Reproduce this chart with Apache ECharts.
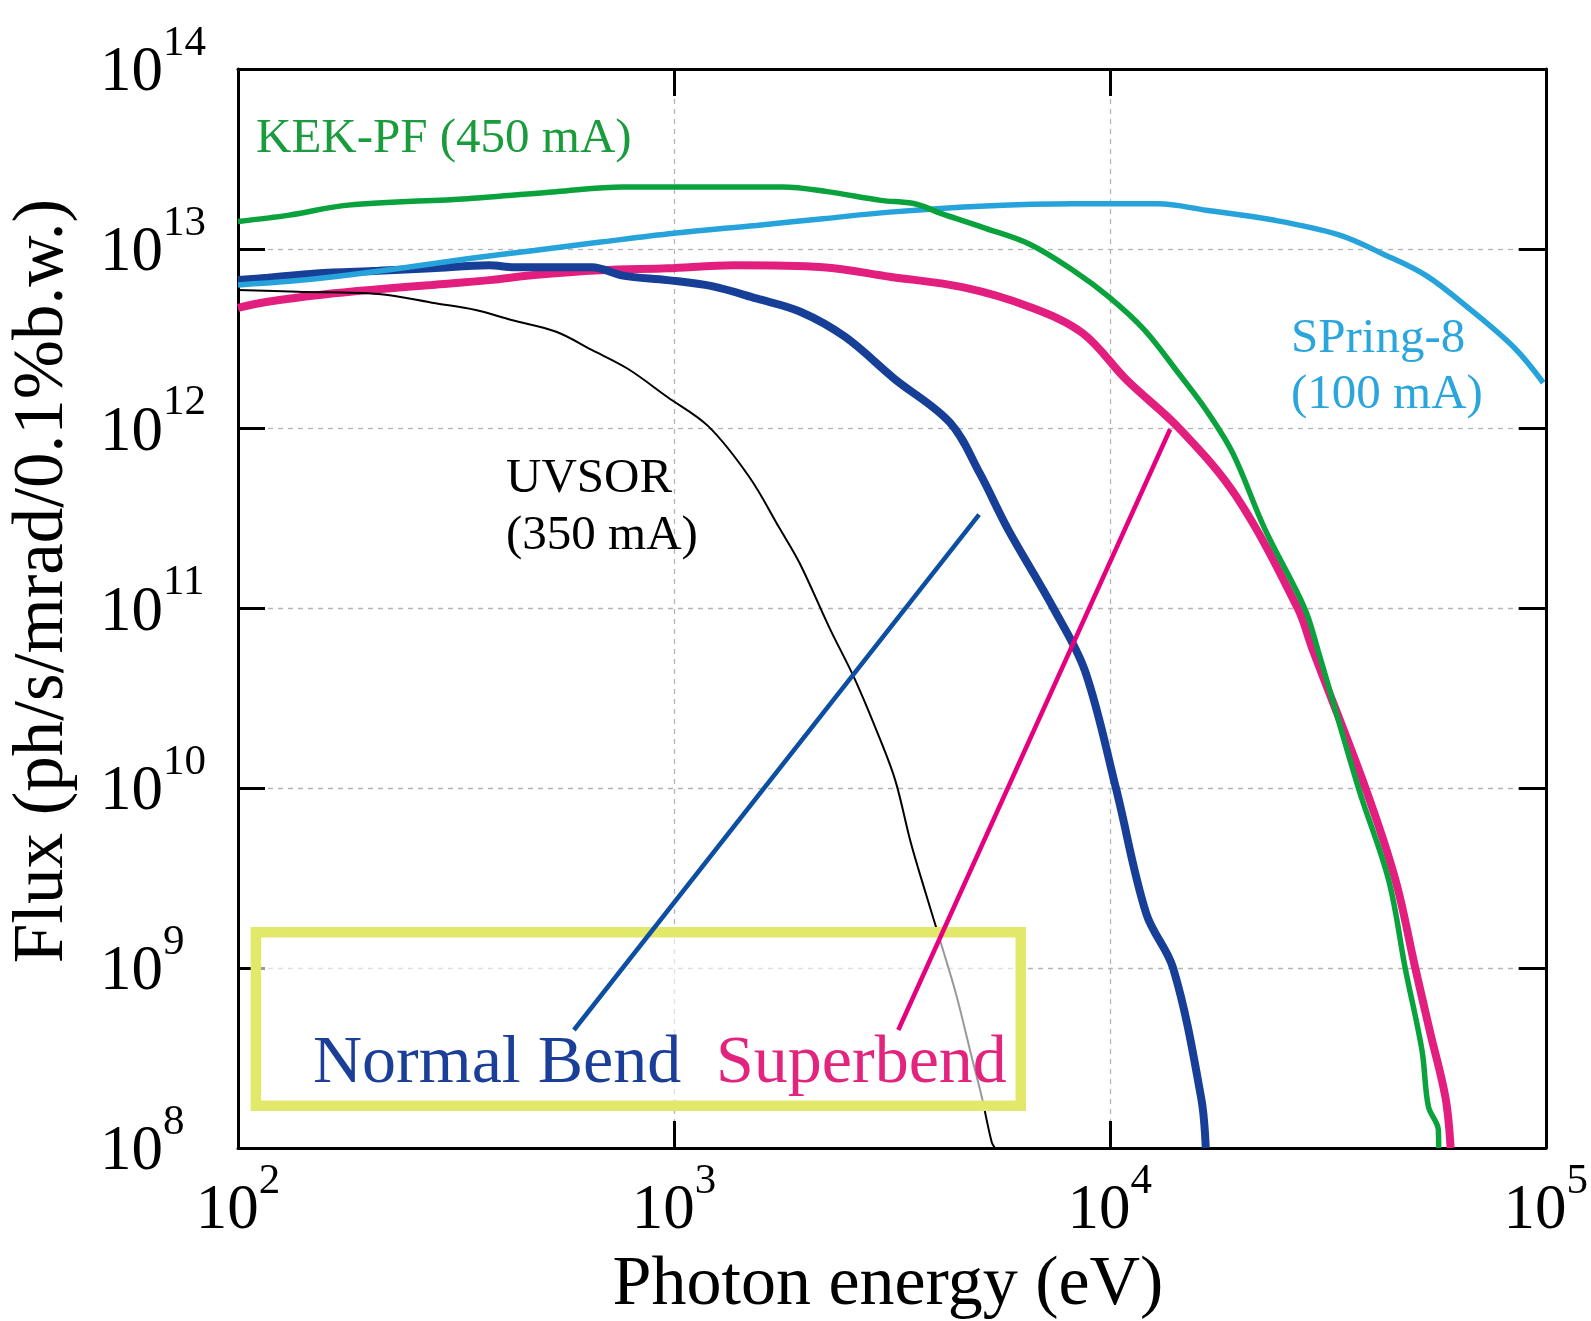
<!DOCTYPE html>
<html>
<head>
<meta charset="utf-8">
<script src="https://cdn.jsdelivr.net/npm/echarts@6/dist/echarts.min.js"></script>
<style>
html,body{margin:0;padding:0;background:#fff;}
#chart{width:1591px;height:1321px;}
</style>
</head>
<body>
<div id="chart"></div>
<script>
// ---------------- data ----------------
const xTickExponents = [2, 3, 4, 5];
const yTickExponents = [8, 9, 10, 11, 12, 13, 14];

const uvsorEnergy = [100, 137, 210, 284, 351, 424, 537, 648, 782, 966, 1200, 1488, 1746, 1942, 2280, 2606, 2980, 3226, 3494, 3783, 4100, 4444, 4810, 5077, 5357, 5450];
const uvsorFlux   = [5.9e12, 5.77e12, 5.61e12, 4.98e12, 4.57e12, 4.02e12, 3.46e12, 2.74e12, 2.16e12, 1.50e12, 1.03e12, 5.4e11, 2.8e11, 1.79e11, 7.7e10, 4.0e10, 1.84e10, 1.09e10, 5.0e9, 2.6e9, 1.37e9, 7.1e8, 3.28e8, 1.95e8, 1.08e8, 1.0e8];

const normalEnergy = [100, 117, 151, 210, 278, 377, 430, 648, 764, 966, 1222, 1545, 1950, 2470, 3200, 4300, 5040, 5820, 7430, 8770, 10330, 12130, 13970, 16200, 16600];
const normalFlux   = [6.7e12, 6.9e12, 7.3e12, 7.55e12, 7.8e12, 8.1e12, 7.9e12, 7.9e12, 7.1e12, 6.7e12, 6.2e12, 5.3e12, 4.47e12, 3.24e12, 1.9e12, 1.08e12, 5.6e11, 2.8e11, 1.0e11, 4.5e10, 1.0e10, 2.0e9, 1.0e9, 1.9e8, 1.0e8];

const superEnergy = [100, 117, 166, 210, 278, 377, 478, 679, 966, 1374, 2198, 3126, 4620, 6550, 8660, 10940, 14450, 19500, 27000, 29200, 38600, 45200, 50200, 54300, 58900, 60500];
const superFlux   = [4.7e12, 5.08e12, 5.66e12, 5.96e12, 6.3e12, 6.7e12, 7.15e12, 7.6e12, 7.8e12, 8.1e12, 7.9e12, 7.0e12, 6.1e12, 4.75e12, 3.4e12, 1.86e12, 1.0e12, 4.2e11, 1.0e11, 5.9e10, 1.0e10, 3.1e9, 1.0e9, 4.4e8, 1.9e8, 1.0e8];

const kekEnergy = [100, 131, 179, 336, 537, 764, 1778, 2249, 2980, 3570, 4110, 5190, 6550, 8260, 9950, 12000, 14450, 16630, 19150, 22630, 28000, 30000, 37200, 43600, 47600, 52000, 53800, 56700, 56800];
const kekFlux   = [1.42e13, 1.54e13, 1.75e13, 1.9e13, 2.08e13, 2.21e13, 2.21e13, 2.08e13, 1.86e13, 1.78e13, 1.57e13, 1.30e13, 1.06e13, 7.55e12, 5.4e12, 3.54e12, 2.0e12, 1.27e12, 7.3e11, 2.8e11, 1.0e11, 5.9e10, 1.0e10, 3.1e9, 1.0e9, 3.5e8, 1.7e8, 1.26e8, 1.0e8];

const spring8Energy = [100, 131, 166, 236, 336, 478, 679, 1000, 1545, 2198, 3126, 5190, 8260, 12880, 16630, 23550, 33400, 42200, 53200, 67100, 84900, 98700];
const spring8Flux   = [6.3e12, 6.6e12, 7.0e12, 7.8e12, 8.8e12, 9.8e12, 1.09e13, 1.22e13, 1.35e13, 1.47e13, 1.6e13, 1.73e13, 1.78e13, 1.78e13, 1.64e13, 1.45e13, 1.2e13, 9.4e12, 7.1e12, 4.6e12, 2.8e12, 1.8e12];

// annotation anchors in data space [energy, flux]
const normalPointer = [[589.7, 4.53e8], [5012, 3.33e11]];
const superPointer  = [[3272, 4.53e8], [13750, 9.93e11]];
const highlightBox  = [[109.9, 1.586e9], [6247, 1.72e8]];

const seriesNames = ['Superbend', 'Normal Bend', 'UVSOR (350 mA)', 'SPring-8 (100 mA)', 'KEK-PF (450 mA)'];

// ---------------- chart ----------------
const FONT = '"Liberation Serif", "Times New Roman", serif';
const zip = (a, b) => a.map((v, i) => [v, b[i]]);
const chart = echarts.init(document.getElementById('chart'), null, {renderer: 'canvas'});

function expLabel(exps) {
  return function (v) {
    const e = Math.round(Math.log10(v));
    if (exps.indexOf(e) < 0) return '';
    return '{n|10}{s|' + e + '}';
  };
}
const richExp = {
  n: {fontFamily: FONT, fontSize: 63, lineHeight: 83, verticalAlign: 'bottom', color: '#000'},
  s: {fontFamily: FONT, fontSize: 43, lineHeight: 43, verticalAlign: 'top', color: '#000'}
};
const tickStyle = {show: true, inside: true, length: 27, lineStyle: {color: '#000', width: 3}};
const lineStyleAxis = {show: true, onZero: false, lineStyle: {color: '#000', width: 3}};
const gridLine = {show: true, lineStyle: {color: '#b4b4b4', width: 1.3, type: [5, 5]}};

function curve(name, ex, fy, color, width, z) {
  return {name: name, type: 'line', data: zip(ex, fy), showSymbol: false, symbol: 'none',
          smooth: 0.35, lineStyle: {color: color, width: width}, z: z};
}

const option = {
  animation: false,
  backgroundColor: '#fff',
  grid: {left: 238, right: 40, top: 69, bottom: 173, containLabel: false},
  xAxis: [
    {type: 'log', logBase: 10, min: 100, max: 100000, splitNumber: 3, position: 'bottom',
     axisLine: lineStyleAxis, axisTick: tickStyle, minorTick: {show: false},
     splitLine: gridLine,
     axisLabel: {formatter: expLabel(xTickExponents), rich: richExp, margin: 12, showMinLabel: true, showMaxLabel: true}},
    {type: 'log', logBase: 10, min: 100, max: 100000, splitNumber: 3, position: 'top',
     axisLine: lineStyleAxis, axisTick: tickStyle, splitLine: {show: false}, axisLabel: {show: false}}
  ],
  yAxis: [
    {type: 'log', logBase: 10, min: 1e8, max: 1e14, splitNumber: 6, position: 'left',
     axisLine: lineStyleAxis, axisTick: tickStyle, splitLine: gridLine,
     axisLabel: {formatter: expLabel(yTickExponents), rich: richExp, margin: 138, align: 'left', padding: [0, 0, 11, 0],
                 showMinLabel: true, showMaxLabel: true}},
    {type: 'log', logBase: 10, min: 1e8, max: 1e14, splitNumber: 6, position: 'right',
     axisLine: lineStyleAxis, axisTick: tickStyle, splitLine: {show: false}, axisLabel: {show: false}}
  ],
  series: [
    curve(seriesNames[0], superEnergy, superFlux, '#e21f7f', 8, 2),
    curve(seriesNames[1], normalEnergy, normalFlux, '#173f97', 8, 3),
    curve(seriesNames[2], uvsorEnergy, uvsorFlux, '#000', 2, 4),
    curve(seriesNames[3], spring8Energy, spring8Flux, '#27a3db', 5.5, 5),
    curve(seriesNames[4], kekEnergy, kekFlux, '#0aa23c', 5.5, 6)
  ]
};
chart.setOption(option);

function px(p) { return chart.convertToPixel({gridIndex: 0}, p); }
const b1 = px(highlightBox[0]), b2 = px(highlightBox[1]);
const n1 = px(normalPointer[0]), n2 = px(normalPointer[1]);
const s1 = px(superPointer[0]), s2 = px(superPointer[1]);

function txt(text, x, y, size, color, extra) {
  return {
    type: 'text', x: x, y: y, z: 100,
    style: Object.assign({text: text, font: size + 'px ' + FONT, fill: color,
                          align: 'left', verticalAlign: 'middle'}, extra || {})
  };
}

chart.setOption({
  graphic: [
    {type: 'rect', z: 50,
     shape: {x: b1[0], y: b1[1], width: b2[0] - b1[0], height: b2[1] - b1[1]},
     style: {fill: 'rgba(255,255,255,0.6)', stroke: '#e2e86a', lineWidth: 10.5}},
    {type: 'line', z: 60, shape: {x1: n1[0], y1: n1[1], x2: n2[0], y2: n2[1]},
     style: {stroke: '#0b4ea2', lineWidth: 4.5}},
    {type: 'line', z: 60, shape: {x1: s1[0], y1: s1[1], x2: s2[0], y2: s2[1]},
     style: {stroke: '#e4007f', lineWidth: 4.5}},
    txt('KEK-PF (450 mA)', 256, 139, 49, '#1a9b3c'),
    txt('SPring-8\n(100 mA)', 1291, 367, 49, '#2aa6dc', {lineHeight: 56}),
    txt('UVSOR\n(350 mA)', 506, 508, 49, '#000', {lineHeight: 57}),
    txt('Normal Bend', 313, 1064, 68, '#1b3f98'),
    txt('Superbend', 716, 1064, 68, '#e2247f'),
    txt('Photon energy (eV)', 888, 1286, 70, '#000', {align: 'center'}),
    {type: 'text', x: 43, y: 581, rotation: Math.PI / 2, z: 100,
     style: {text: 'Flux (ph/s/mrad/0.1%b.w.)', font: '71px ' + FONT, fill: '#000', align: 'center', verticalAlign: 'middle'}}
  ]
});
</script>
</body>
</html>
